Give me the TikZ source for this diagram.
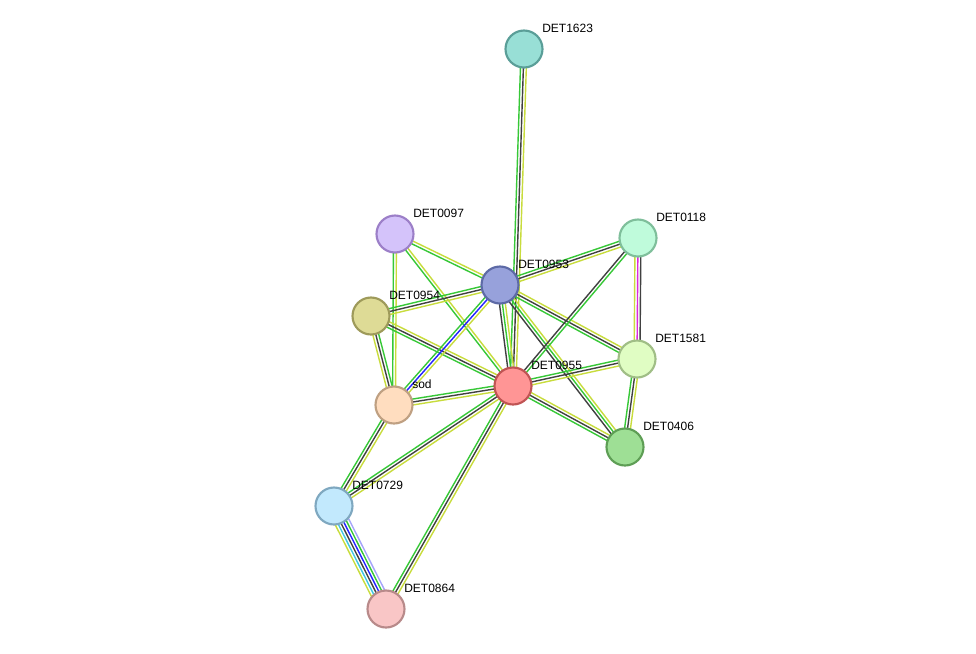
\documentclass[tikz,border=0pt]{standalone}
\usepackage{fontspec}
\setmainfont{Liberation Sans}
\usetikzlibrary{calc}
\pgfdeclarelayer{background}
\pgfsetlayers{background,main}
\definecolor{eg}{RGB}{55,200,55}
\definecolor{ed}{RGB}{65,65,65}
\definecolor{ey}{RGB}{200,220,60}
\definecolor{eb}{RGB}{35,35,255}
\definecolor{em}{RGB}{220,40,220}
\definecolor{ec}{RGB}{60,200,225}
\definecolor{el}{RGB}{165,165,250}
\newcommand\edgebundle[4]{%
  \foreach \cc [count=\ii] in {#4} {
    \pgfmathsetmacro\off{(\ii-(#3+1)/2)*2.2}
    \draw[edgeline, draw=\cc] ($(#1.center)!\off pt!90:(#2.center)$) -- ($(#2.center)!\off pt!-90:(#1.center)$);
  }}
\tikzset{
  prot/.style={circle, minimum size=27.75pt, inner sep=0pt, line width=1.6pt},
  lab/.style={anchor=west, inner sep=0pt, font=\fontsize{9}{10}\selectfont},
  edgeline/.style={line width=1.05pt}
}
\begin{document}
\begin{tikzpicture}[x=0.75pt,y=-0.75pt]
\useasboundingbox (0,0) rectangle (976,654);
\node[prot, fill={rgb,255:red,152;green,223;blue,214}, draw={rgb,255:red,90;green,158;blue,152}] (n1623) at (524,49) {};
\node[prot, fill={rgb,255:red,212;green,195;blue,250}, draw={rgb,255:red,156;green,127;blue,200}] (n0097) at (395,234) {};
\node[prot, fill={rgb,255:red,191;green,251;blue,219}, draw={rgb,255:red,127;green,191;blue,155}] (n0118) at (638,238) {};
\node[prot, fill={rgb,255:red,151;green,161;blue,219}, draw={rgb,255:red,93;green,106;blue,166}] (n0953) at (500,285) {};
\node[prot, fill={rgb,255:red,222;green,219;blue,150}, draw={rgb,255:red,158;green,154;blue,90}] (n0954) at (371,316) {};
\node[prot, fill={rgb,255:red,224;green,253;blue,195}, draw={rgb,255:red,160;green,190;blue,134}] (n1581) at (637,359) {};
\node[prot, fill={rgb,255:red,255;green,149;blue,149}, draw={rgb,255:red,192;green,84;blue,84}] (n0955) at (513,386) {};
\node[prot, fill={rgb,255:red,255;green,221;blue,191}, draw={rgb,255:red,191;green,160;blue,130}] (nsod) at (394,405) {};
\node[prot, fill={rgb,255:red,158;green,223;blue,149}, draw={rgb,255:red,94;green,158;blue,85}] (n0406) at (625,447) {};
\node[prot, fill={rgb,255:red,194;green,233;blue,253}, draw={rgb,255:red,127;green,168;blue,192}] (n0729) at (334,506) {};
\node[prot, fill={rgb,255:red,249;green,198;blue,198}, draw={rgb,255:red,184;green,138;blue,138}] (n0864) at (386,609) {};
\node[lab] (l1623) at ($(n1623.center)+(18,-21)$) {DET1623};
\node[lab] (l0097) at ($(n0097.center)+(18,-21)$) {DET0097};
\node[lab] (l0118) at ($(n0118.center)+(18,-21)$) {DET0118};
\node[lab] (l0953) at ($(n0953.center)+(18,-21)$) {DET0953};
\node[lab] (l0954) at ($(n0954.center)+(18,-21)$) {DET0954};
\node[lab] (l1581) at ($(n1581.center)+(18,-21)$) {DET1581};
\node[lab] (l0955) at ($(n0955.center)+(18,-21)$) {DET0955};
\node[lab] (lsod) at ($(nsod.center)+(18,-21)$) {sod};
\node[lab] (l0406) at ($(n0406.center)+(18,-21)$) {DET0406};
\node[lab] (l0729) at ($(n0729.center)+(18,-21)$) {DET0729};
\node[lab] (l0864) at ($(n0864.center)+(18,-21)$) {DET0864};
\begin{pgfonlayer}{background}
\fill[white] (0,0) rectangle (976,654);
\edgebundle{n1623}{n0955}{3}{eg,ed,ey}
\edgebundle{n0097}{n0953}{2}{eg,ey}
\edgebundle{n0097}{n0955}{2}{eg,ey}
\edgebundle{n0097}{nsod}{2}{eg,ey}
\edgebundle{n0954}{n0953}{3}{ey,ed,eg}
\edgebundle{n0954}{n0955}{3}{eg,ed,ey}
\edgebundle{n0954}{nsod}{3}{ey,ed,eg}
\edgebundle{n0953}{nsod}{3}{eg,eb,ey}
\edgebundle{n0953}{n0955}{3}{ed,eg,ey}
\edgebundle{n0953}{n0118}{3}{ey,ed,eg}
\edgebundle{n0953}{n1581}{3}{eg,ed,ey}
\edgebundle{n0953}{n0406}{3}{ed,eg,ey}
\edgebundle{n0118}{n0955}{2}{ed,eg}
\edgebundle{n0118}{n1581}{3}{ey,em,ed}
\edgebundle{n1581}{n0955}{3}{eg,ed,ey}
\edgebundle{n1581}{n0406}{3}{eg,ed,ey}
\edgebundle{n0955}{n0406}{3}{eg,ed,ey}
\edgebundle{n0955}{nsod}{3}{eg,ed,ey}
\edgebundle{n0955}{n0729}{3}{eg,ed,ey}
\edgebundle{n0955}{n0864}{3}{eg,ed,ey}
\edgebundle{nsod}{n0729}{3}{eg,ed,ey}
\edgebundle{n0729}{n0864}{6}{ey,ec,ed,eb,eg,el}
\end{pgfonlayer}
\end{tikzpicture}
\end{document}
